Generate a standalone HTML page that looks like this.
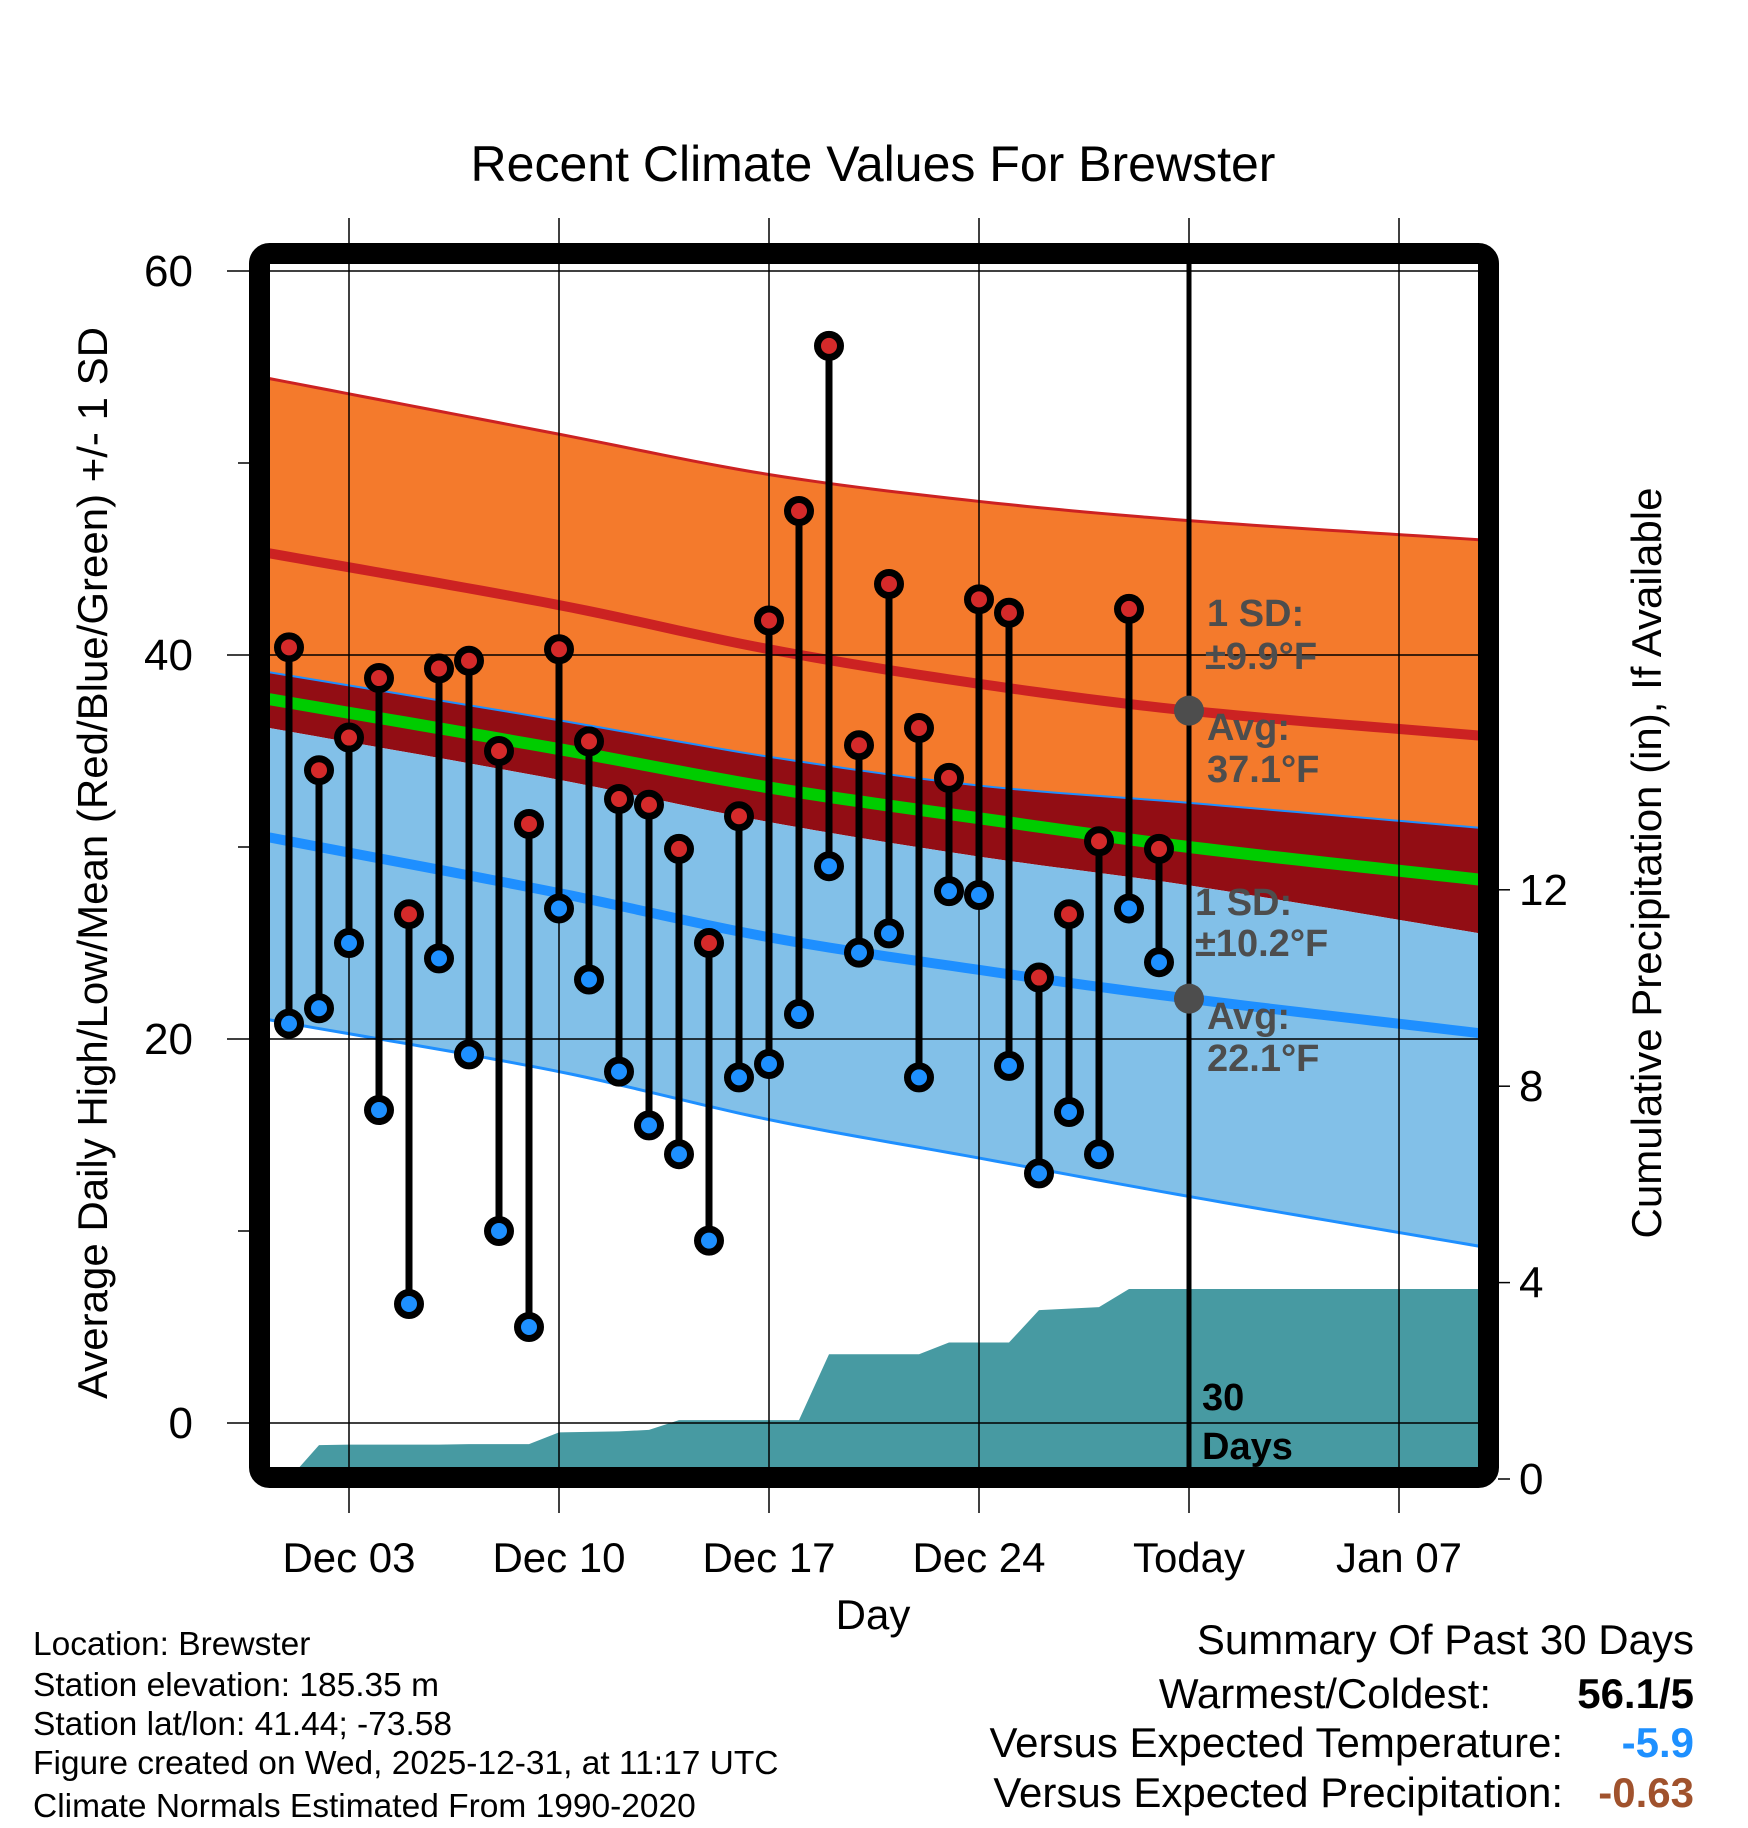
<!DOCTYPE html>
<html><head><meta charset="utf-8"><style>
html,body{margin:0;padding:0;background:#fff;width:1748px;height:1828px;overflow:hidden}
svg{display:block;font-family:"Liberation Sans",sans-serif}
</style></head><body>
<svg id="chart" width="1748" height="1828" viewBox="0 0 1748 1828" xmlns="http://www.w3.org/2000/svg">
<defs><clipPath id="plotclip"><rect x="270" y="264" width="1209" height="1203"/></clipPath></defs>
<g id="bands" clip-path="url(#plotclip)"></g>
<g id="grid"></g>
<g id="marks" clip-path="url(#plotclip)"></g>
<rect x="259.5" y="253.5" width="1229" height="1224" rx="10" fill="none" stroke="#000" stroke-width="21"/>
<text x="873" y="181" font-size="50" text-anchor="middle">Recent Climate Values For Brewster</text>
<text transform="translate(107,863) rotate(-90)" font-size="42" text-anchor="middle">Average Daily High/Low/Mean (Red/Blue/Green) +/- 1 SD</text>
<text transform="translate(1661,863) rotate(-90)" font-size="42" text-anchor="middle">Cumulative Precipitation (in), If Available</text>
<text x="873" y="1629" font-size="42" text-anchor="middle">Day</text>
<g font-size="33.5">
<text x="33" y="1655">Location: Brewster</text>
<text x="33" y="1696">Station elevation: 185.35 m</text>
<text x="33" y="1735">Station lat/lon: 41.44; -73.58</text>
<text x="33" y="1774">Figure created on Wed, 2025-12-31, at 11:17 UTC</text>
<text x="33" y="1817">Climate Normals Estimated From 1990-2020</text>
</g>
<g font-size="42" text-anchor="end">
<text x="1694" y="1654">Summary Of Past 30 Days</text>
<text x="1491" y="1708">Warmest/Coldest:</text>
<text x="1694" y="1708" font-weight="bold">56.1/5</text>
<text x="1563" y="1757">Versus Expected Temperature:</text>
<text x="1694" y="1757" font-weight="bold" fill="#1e90ff">-5.9</text>
<text x="1563" y="1807">Versus Expected Precipitation:</text>
<text x="1694" y="1807" font-weight="bold" fill="#a0522d">-0.63</text>
</g>
</svg>
<script>
const highs=[40.4,34,35.7,38.8,26.5,39.3,39.7,35,31.2,40.3,35.5,32.5,32.2,29.9,25,31.6,41.8,47.5,56.1,35.3,43.7,36.2,33.6,42.9,42.2,23.2,26.5,30.3,42.4,29.9];
const lows=[20.8,21.6,25,16.3,6.2,24.2,19.2,10,5,26.8,23.1,18.3,15.5,14,9.5,18,18.7,21.3,29,24.5,25.5,18,27.7,27.5,18.6,13,16.2,14,26.8,24];
const precip=[0,0.69,0.70,0.70,0.70,0.70,0.71,0.71,0.71,0.95,0.96,0.97,1.0,1.2,1.2,1.2,1.2,1.2,2.54,2.54,2.54,2.54,2.78,2.78,2.78,3.44,3.47,3.5,3.87,3.87,3.87];
const normDays=[-0.66,9,16,23,30,39.7];
const highPlusSD=[54.4,51.5,49.4,48.0,47.0,46.0];
const highMean=[45.3,42.6,40.3,38.5,37.1,35.8];
const highMinusSD=[39.1,36.6,34.7,33.2,32.3,31.0];
const meanLine=[37.7,35.1,33.1,31.5,30.0,28.3];
const lowPlusSD=[36.2,33.5,31.3,29.5,28.0,25.5];
const lowMean=[30.5,27.6,25.3,23.6,22.1,20.3];
const lowMinusSD=[21.0,18.3,15.8,13.8,11.8,9.2];
const xTickDays=[2,9,16,23,30,37];
const xTickLabels=["Dec 03","Dec 10","Dec 17","Dec 24","Today","Jan 07"];
const yTicks=[0,10,20,30,40,50,60];
const yLabels=[0,20,40,60];
const pTicks=[0,4,8,12];
const NS='http://www.w3.org/2000/svg';
const X=d=>289+30*d, Y=v=>1423-19.2*v, P=v=>1479-49.1*v;
function mk(tag,attrs,parent){const e=document.createElementNS(NS,tag);for(const k in attrs)e.setAttribute(k,attrs[k]);parent.appendChild(e);return e;}
function valAt(arr,d){let j=0;while(j<4&&d>normDays[j+1])j++;
// monotone cubic-ish (Catmull-Rom) interpolation for smooth curves
const t=(d-normDays[j])/(normDays[j+1]-normDays[j]);
const p0=arr[Math.max(j-1,0)],p1=arr[j],p2=arr[j+1],p3=arr[Math.min(j+2,5)];
const h=normDays[j+1]-normDays[j];
const m1=j>0?(p2-p0)/(normDays[j+1]-normDays[j-1])*h:(p2-p1);
const m2=j+2<=5?(p3-p1)/(normDays[j+2]-normDays[j])*h:(p2-p1);
const t2=t*t,t3=t2*t;
return (2*t3-3*t2+1)*p1+(t3-2*t2+t)*m1+(-2*t3+3*t2)*p2+(t3-t2)*m2;}
function interp(arr,n){const pts=[];for(let i=0;i<=n;i++){const d=normDays[0]+(normDays[5]-normDays[0])*i/n;pts.push([X(d),Y(valAt(arr,d))]);}return pts;}
function band(top,bot,fill,name,g){const a=interp(top,80),b=interp(bot,80).reverse();const p=mk('polygon',{points:a.concat(b).map(q=>q.join(',')).join(' '),fill:fill},g);

}
function line(arr,col,w,name,g){const p=mk('polyline',{points:interp(arr,80).map(q=>q.join(',')).join(' '),fill:'none',stroke:col,'stroke-width':w},g);

}
const bands=document.getElementById('bands');
band(highPlusSD,highMinusSD,'#f47a2c','high-sd-band',bands);
band(highMinusSD,lowPlusSD,'#920d14','overlap-band',bands);
band(lowPlusSD,lowMinusSD,'#82c0e8','low-sd-band',bands);
line(highPlusSD,'#cc2222',3,'high-plus-sd-line',bands);
line(highMinusSD,'#1e8fff',2,'high-minus-sd-line',bands);
line(lowMinusSD,'#1e8fff',3,'low-minus-sd-line',bands);
line(highMean,'#cc2222',10,'high-mean-line',bands);
line(lowMean,'#1e8fff',10,'low-mean-line',bands);
line(meanLine,'#00cc00',12,'mean-line',bands);
let pp=[];for(let i=0;i<precip.length;i++)pp.push([X(i),P(precip[i])]);pp.push([1479,P(precip[precip.length-1])]);pp.push([1479,1480]);pp.push([X(0),1480]);
const pa=mk('polygon',{points:pp.map(q=>q.join(',')).join(' '),fill:'#479aa2'},bands);


const grid=document.getElementById('grid');
xTickDays.forEach((d,i)=>{const l=mk('line',{x1:X(d),x2:X(d),y1:218,y2:1513,stroke:'#000','stroke-width':1.5},grid);


const t=mk('text',{x:X(d),y:1572,'font-size':42,'text-anchor':'middle'},grid);t.textContent=xTickLabels[i];

});
yTicks.forEach(v=>{const major=yLabels.includes(v);const l=mk('line',{x1:major?227:238,x2:major?1479:252,y1:Y(v),y2:Y(v),stroke:'#000','stroke-width':1.5},grid);


if(major){const t=mk('text',{x:193,y:Y(v)+15,'font-size':44,'text-anchor':'end'},grid);t.textContent=v;

}});
pTicks.forEach(v=>{const l=mk('line',{x1:1498,x2:1510,y1:P(v),y2:P(v),stroke:'#000','stroke-width':1.5},grid);


const t=mk('text',{x:1519,y:P(v)+15,'font-size':44},grid);t.textContent=v;

});
const marks=document.getElementById('marks');
const tl=mk('line',{x1:X(30),x2:X(30),y1:264,y2:1470,stroke:'#000','stroke-width':5},marks);


highs.forEach((h,i)=>{const s=mk('line',{x1:X(i),x2:X(i),y1:Y(h),y2:Y(lows[i]),stroke:'#000','stroke-width':7},marks);

});
highs.forEach((h,i)=>{const c=mk('circle',{cx:X(i),cy:Y(h),r:11.5,fill:'#d42a2a',stroke:'#000','stroke-width':7},marks);


const c2=mk('circle',{cx:X(i),cy:Y(lows[i]),r:11.5,fill:'#1e90ff',stroke:'#000','stroke-width':7},marks);

});
[37.1,22.1].forEach(v=>{const c=mk('circle',{cx:X(30),cy:Y(v),r:15,fill:'#4d4d4d'},marks);

});
const ann=[[1207,626,'1 SD:'],[1205,669,'±9.9°F'],[1207,740,'Avg:'],[1207,782,'37.1°F'],[1195,915,'1 SD:'],[1195,956,'±10.2°F'],[1207,1029,'Avg:'],[1207,1071,'22.1°F']];
ann.forEach(a=>{const t=mk('text',{x:a[0],y:a[1],'font-size':38,'font-weight':'bold',fill:'#4d4d4d'},marks);t.textContent=a[2];

});
[[1202,1410,'30'],[1202,1459,'Days']].forEach(a=>{const t=mk('text',{x:a[0],y:a[1],'font-size':38,'font-weight':'bold',fill:'#000'},marks);t.textContent=a[2];

});
</script>
</body></html>
